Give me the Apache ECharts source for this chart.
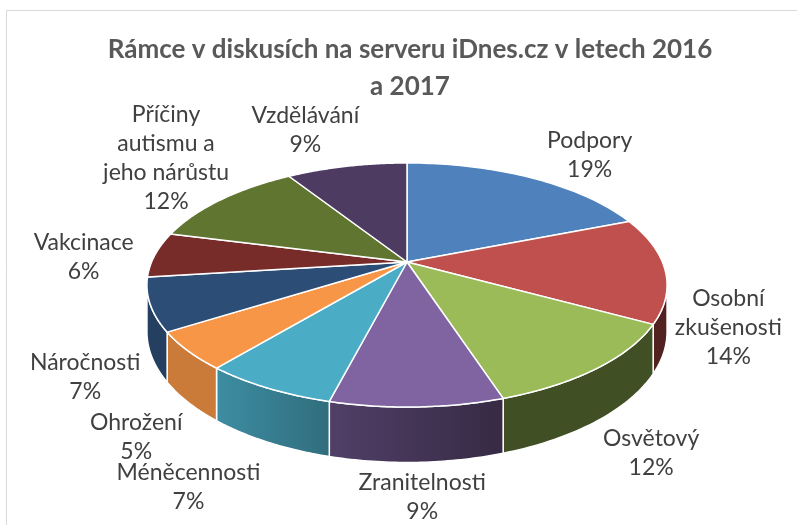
<!DOCTYPE html>
<html>
<head>
<meta charset="utf-8">
<script src="https://cdn.jsdelivr.net/npm/echarts@6/dist/echarts.min.js"></script>
<style>
  html, body { margin: 0; padding: 0; background: #fff; }
  #chart { width: 797px; height: 525px; }
</style>
</head>
<body>
<div id="chart"></div>
<script>
// data (percent of frames), clockwise from 12 o'clock
const categories = [
  "Podpory",
  "Osobní\nzkušenosti",
  "Osvětový",
  "Zranitelnosti",
  "Méněcennosti",
  "Ohrožení",
  "Náročnosti",
  "Vakcinace",
  "Příčiny\nautismu a\njeho nárůstu",
  "Vzdělávání",
];
const percents = [19, 14, 12, 9, 7, 5, 7, 6, 12, 9];
const topColors = [
  "#4F81BD", "#C0504D", "#9BBB59", "#8064A2", "#4BACC6",
  "#F79646", "#2C4D75", "#772C2A", "#5F7530", "#4D3B62",
];
// excel "best fit" moves some labels sideways, these follow it
const labelNudge = [
  [0, -5], [-3, -4], [37, -7], [5, -4], [-71, 6],
  [-27, -3], [-16, -4], [1, 3], [22, -31], [-11, -13],
];

// 3d pie geometry (perspective projection of a tilted disc)
const CX = 407, CY = 262;
const A = 255.4, B = 117.7, K = 0.1885, DEPTH = 45;
const VIS_A = Math.acos(-K), VIS_B = 2 * Math.PI - Math.acos(-K);

const total = percents.reduce((s, v) => s + v, 0);
const startAngles = [];
percents.reduce((acc, v, i) => {
  startAngles[i] = (acc / total) * 2 * Math.PI;
  return acc + v;
}, 0);

const proj = (t, drop) => {
  const u = Math.sin(t), v = Math.cos(t);
  const w = 1 + K * v;
  return [CX + (A * u) / w, CY - (B * v) / w + drop / w];
};

const shade = (hex, f) => {
  const n = parseInt(hex.slice(1), 16);
  const r = Math.round(((n >> 16) & 255) * f);
  const g = Math.round(((n >> 8) & 255) * f);
  const b = Math.round((n & 255) * f);
  return "rgb(" + r + "," + g + "," + b + ")";
};
// light comes from the front left
const wallLight = (t) => {
  const d = (t * 180) / Math.PI;
  return Math.max(0.42, Math.min(0.82, 0.42 + ((d - 165) / 55) * 0.4));
};

const renderWall = (params, api) => {
  const i = params.dataIndex;
  let a = startAngles[i];
  let b = a + (api.value(0) / total) * 2 * Math.PI;
  a = Math.max(a, VIS_A);
  b = Math.min(b, VIS_B);
  if (b <= a) return { type: "group", children: [] };
  const pts = [];
  const n = 40;
  for (let k = 0; k <= n; k++) pts.push(proj(a + ((b - a) * k) / n, 0));
  for (let k = n; k >= 0; k--) pts.push(proj(a + ((b - a) * k) / n, DEPTH));
  return {
    type: "polygon",
    shape: { points: pts },
    style: {
      fill: new echarts.graphic.LinearGradient(0, 0, 1, 0, [
        { offset: 0, color: shade(topColors[i], wallLight(b)) },
        { offset: 1, color: shade(topColors[i], wallLight(a)) },
      ]),
      stroke: "#fff",
      lineWidth: 1.5,
      lineJoin: "round",
    },
  };
};

const renderTop = (params, api) => {
  const i = params.dataIndex;
  const a = startAngles[i];
  const b = a + (api.value(0) / total) * 2 * Math.PI;
  const pts = [[CX, CY]];
  const n = 60;
  for (let k = 0; k <= n; k++) pts.push(proj(a + ((b - a) * k) / n, 0));

  // label position
  const m = (a + b) / 2;
  const u = Math.sin(m), v = Math.cos(m);
  let lx = CX + 1.25 * 260 * u;
  let ly = CY - 1.25 * (v > 0 ? 99 : 145) * v + (v < 0 ? 58 : 0);
  lx += labelNudge[i][0];
  ly += labelNudge[i][1];

  return {
    type: "group",
    children: [
      {
        type: "polygon",
        shape: { points: pts },
        style: { fill: topColors[i], stroke: "#fff", lineWidth: 1.5, lineJoin: "round" },
      },
      {
        type: "text",
        x: lx,
        y: ly,
        style: {
          text: categories[i] + "\n" + Math.round((api.value(0) / total) * 100) + "%",
          fill: "#404040",
          font: '23px "Lato", sans-serif',
          lineHeight: 29,
          align: "center",
          verticalAlign: "middle",
        },
      },
    ],
  };
};

const chart = echarts.init(document.getElementById("chart"));
chart.setOption({
  animation: false,
  backgroundColor: "#fff",
  title: {
    text: "Rámce v diskusích na serveru iDnes.cz v letech 2016\na 2017",
    left: 405,
    textAlign: "center",
    top: 26,
    textStyle: {
      fontFamily: "Lato",
      fontSize: 26,
      fontWeight: "bold",
      color: "#595959",
      lineHeight: 37,
    },
  },
  graphic: [
    {
      type: "rect",
      shape: { x: 6.5, y: 10.5, width: 820, height: 540 },
      style: { fill: "none", stroke: "#D9D9D9", lineWidth: 1 },
      z: -1,
    },
  ],
  series: [
    {
      type: "custom",
      coordinateSystem: "none",
      renderItem: renderWall,
      data: percents,
      z: 1,
    },
    {
      type: "custom",
      coordinateSystem: "none",
      renderItem: renderTop,
      data: percents,
      z: 2,
    },
  ],
});
</script>
</body>
</html>
